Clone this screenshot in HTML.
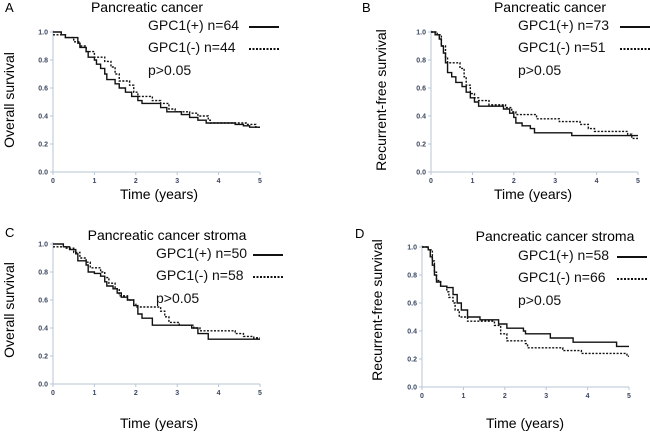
<!DOCTYPE html>
<html><head><meta charset="utf-8"><style>
body{margin:0;background:#fff;}
svg{display:block;font-family:"Liberation Sans",sans-serif;}
.tk{font-size:7px;font-weight:bold;fill:#3a4660;}
.lg{font-size:14px;fill:#111;}
</style></head><body>
<svg id="fig" width="650" height="432" viewBox="0 0 650 432"></svg>
<script>
const yTicks=[0,0.2,0.4,0.6,0.8,1.0];
const xTicks=[0,1,2,3,4,5];
const panelLetters=["A","B","C","D"];
const panelTitles=["Pancreatic cancer","Pancreatic cancer","Pancreatic cancer stroma","Pancreatic cancer stroma"];
const yTitles=["Overall survival","Recurrent-free survival","Overall survival","Recurrent-free survival"];
const posLabels=["GPC1(+) n=64","GPC1(+) n=73","GPC1(+) n=50","GPC1(+) n=58"];
const negLabels=["GPC1(-) n=44","GPC1(-) n=51","GPC1(-) n=58","GPC1(-) n=66"];
const solidA=[[0,1],[0.2,0.98],[0.3,0.96],[0.6,0.92],[0.65,0.89],[0.8,0.86],[0.85,0.82],[1.0,0.8],[1.05,0.77],[1.15,0.74],[1.25,0.7],[1.3,0.66],[1.5,0.63],[1.6,0.6],[1.75,0.57],[1.9,0.54],[2.05,0.51],[2.15,0.49],[2.6,0.46],[2.75,0.43],[3.1,0.41],[3.3,0.39],[3.5,0.37],[3.7,0.35],[4.4,0.34],[4.6,0.33],[4.75,0.32],[5,0.32]];
const dashA=[[0,0.98],[0.3,0.96],[0.5,0.93],[0.65,0.9],[0.8,0.86],[1.0,0.82],[1.25,0.79],[1.4,0.75],[1.5,0.7],[1.6,0.65],[1.85,0.62],[1.95,0.57],[2.05,0.54],[2.4,0.51],[2.6,0.49],[2.8,0.45],[2.95,0.43],[3.3,0.42],[3.5,0.4],[3.75,0.37],[3.8,0.35],[4.7,0.34],[4.9,0.32],[5,0.32]];
const solidB=[[0,1],[0.1,0.98],[0.2,0.95],[0.25,0.9],[0.3,0.85],[0.35,0.78],[0.4,0.71],[0.5,0.68],[0.6,0.64],[0.75,0.61],[0.85,0.57],[0.95,0.53],[1.05,0.5],[1.15,0.47],[1.75,0.45],[1.9,0.42],[2.0,0.39],[2.05,0.35],[2.2,0.33],[2.4,0.31],[2.5,0.28],[3.4,0.26],[5,0.26]];
const dashB=[[0,1],[0.15,0.98],[0.25,0.9],[0.35,0.82],[0.4,0.78],[0.7,0.74],[0.8,0.68],[0.85,0.62],[0.95,0.56],[1.05,0.53],[1.15,0.51],[1.4,0.48],[1.8,0.46],[1.95,0.43],[2.05,0.41],[2.55,0.38],[3.1,0.36],[3.6,0.34],[3.8,0.31],[3.95,0.29],[4.75,0.27],[4.85,0.24],[5,0.24]];
const solidC=[[0,1],[0.25,0.98],[0.4,0.96],[0.55,0.93],[0.6,0.88],[0.8,0.85],[0.85,0.8],[1.0,0.79],[1.15,0.77],[1.25,0.73],[1.3,0.7],[1.45,0.68],[1.55,0.65],[1.65,0.62],[1.8,0.6],[1.95,0.56],[2.05,0.5],[2.15,0.47],[2.4,0.42],[3.35,0.4],[3.5,0.36],[3.75,0.32],[5,0.32]];
const dashC=[[0,0.98],[0.3,0.97],[0.5,0.94],[0.65,0.9],[0.8,0.87],[0.9,0.83],[1.15,0.8],[1.25,0.76],[1.35,0.72],[1.5,0.68],[1.6,0.63],[1.8,0.6],[1.95,0.57],[2.0,0.55],[2.6,0.52],[2.7,0.48],[2.8,0.44],[3.05,0.42],[3.4,0.4],[3.55,0.38],[4.4,0.36],[4.6,0.34],[4.85,0.33],[5,0.33]];
const solidD=[[0,1],[0.15,0.98],[0.2,0.93],[0.25,0.87],[0.3,0.8],[0.35,0.75],[0.45,0.72],[0.6,0.71],[0.75,0.66],[0.85,0.6],[0.95,0.55],[1.1,0.5],[1.4,0.48],[1.85,0.45],[2.05,0.42],[2.45,0.4],[2.5,0.38],[3.1,0.35],[3.65,0.32],[4.7,0.29],[5,0.29]];
const dashD=[[0,1],[0.15,0.98],[0.25,0.9],[0.3,0.82],[0.35,0.76],[0.45,0.72],[0.6,0.68],[0.65,0.64],[0.75,0.6],[0.8,0.55],[0.9,0.5],[1.1,0.47],[1.75,0.44],[1.9,0.38],[2.05,0.33],[2.5,0.31],[2.55,0.28],[3.4,0.26],[3.85,0.24],[4.95,0.22],[5,0.22]];
const solids=[solidA,solidB,solidC,solidD];
const dashes=[dashA,dashB,dashC,dashD];

const NS="http://www.w3.org/2000/svg";
const svg=document.getElementById("fig");
function mk(tag,attrs,parent,name,text){
  const e=document.createElementNS(NS,tag);
  for(const k in attrs)e.setAttribute(k,attrs[k]);
  
  
  if(text!==undefined)e.textContent=text;
  (parent||svg).appendChild(e);return e;
}
// layout per panel
const L=[
 {x0:53,x1:260,y0:172,y1:32,let:[5,12],title:[147,12],leg:[148,30],legLine:249,ylab:[14,100],xlab:[159,199]},
 {x0:431,x1:638,y0:172,y1:32,let:[362,12],title:[550,12],leg:[518,30],legLine:620,ylab:[386,100],xlab:[533,199]},
 {x0:53,x1:260,y0:384,y1:244,let:[5,237],title:[167,240],leg:[156,258],legLine:253,ylab:[14,310],xlab:[159,428]},
 {x0:422,x1:629,y0:387,y1:247,let:[355,238],title:[555,241],leg:[518,260],legLine:617,ylab:[382,310],xlab:[525,428]}
];
L.forEach((p,i)=>{
  const g=mk("g",{},svg,"panel-"+panelLetters[i].toLowerCase());
  const sx=t=>p.x0+(p.x1-p.x0)*t/5;
  const sy=v=>p.y0+(p.y1-p.y0)*v;
  mk("text",{x:p.let[0],y:p.let[1],"font-size":"13"},g,"panel-letter",panelLetters[i]);
  mk("text",{x:p.title[0],y:p.title[1],"font-size":"14","text-anchor":"middle"},g,"panel-title",panelTitles[i]);
  mk("line",{x1:p.x0,y1:p.y1-2,x2:p.x0,y2:p.y0,stroke:"#b8c6d4","stroke-width":1},g,"y-axis");
  mk("line",{x1:p.x0,y1:p.y0,x2:p.x1,y2:p.y0,stroke:"#b8c6d4","stroke-width":1},g,"x-axis");
  yTicks.forEach(v=>{
    mk("line",{x1:p.x0-3,y1:sy(v),x2:p.x0,y2:sy(v),stroke:"#b8c6d4"},g,"y-tick");
    mk("text",{x:p.x0-5,y:sy(v)+2.5,"text-anchor":"end",class:"tk"},g,"y-tick-label",v.toFixed(1));
  });
  xTicks.forEach(t=>{
    mk("line",{x1:sx(t),y1:p.y0,x2:sx(t),y2:p.y0+3,stroke:"#b8c6d4"},g,"x-tick");
    mk("text",{x:sx(t),y:p.y0+11,"text-anchor":"middle",class:"tk"},g,"x-tick-label",String(t));
  });
  mk("text",{x:p.xlab[0],y:p.xlab[1],"font-size":"14","text-anchor":"middle"},g,"x-axis-title","Time (years)");
  mk("text",{x:p.ylab[0],y:p.ylab[1],"font-size":"14","text-anchor":"middle",transform:`rotate(-90 ${p.ylab[0]} ${p.ylab[1]})`},g,"y-axis-title",yTitles[i]);
  function step(data){
    let d="M"+sx(data[0][0])+","+sy(data[0][1]);
    for(let k=1;k<data.length;k++){d+=" H"+sx(data[k][0])+" V"+sy(data[k][1]);}
    return d;
  }
  mk("path",{d:step(solids[i]),fill:"none",stroke:"#111","stroke-width":1.4},g,"gpc1-positive-curve");
  mk("path",{d:step(dashes[i]),fill:"none",stroke:"#111","stroke-width":1.4,"stroke-dasharray":"2,1.5"},g,"gpc1-negative-curve");
  mk("text",{x:p.leg[0],y:p.leg[1],class:"lg"},g,"legend-positive-label",posLabels[i]);
  mk("line",{x1:p.legLine,y1:p.leg[1]-3,x2:p.legLine+30,y2:p.leg[1]-3,stroke:"#111","stroke-width":2},g,"legend-positive-line");
  mk("text",{x:p.leg[0],y:p.leg[1]+22,class:"lg"},g,"legend-negative-label",negLabels[i]);
  mk("line",{x1:p.legLine,y1:p.leg[1]+19,x2:p.legLine+30,y2:p.leg[1]+19,stroke:"#111","stroke-width":2,"stroke-dasharray":"2,1.5"},g,"legend-negative-line");
  mk("text",{x:p.leg[0],y:p.leg[1]+45,class:"lg"},g,"p-value-label","p>0.05");
});
</script>
</body></html>
